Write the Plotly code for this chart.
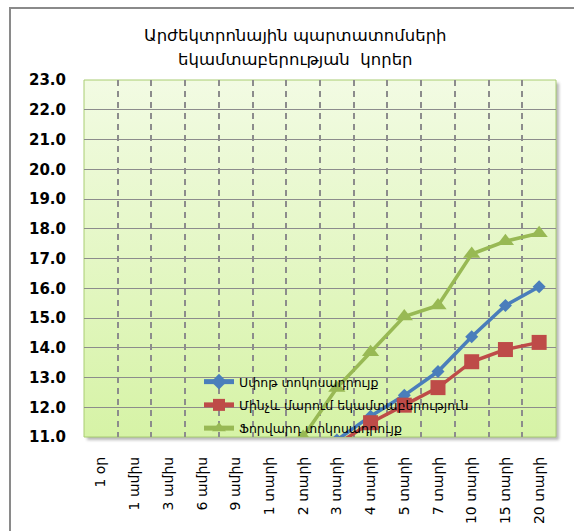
import base64
import plotly.graph_objects as go

# ---- data ----
categories = ["1 օր", "1 ամիս", "3 ամիս", "6 ամիս", "9 ամիս", "1 տարի", "2 տարի",
              "3 տարի", "4 տարի", "5 տարի", "7 տարի", "10 տարի", "15 տարի", "20 տարի"]
spot_rate = [None, None, None, None, None, None, None,
             10.9, 11.7, 12.4, 13.2, 14.37, 15.42, 16.05]
ytm = [None, None, None, None, None, None, None,
       10.75, 11.48, 12.07, 12.66, 13.53, 13.94, 14.18]
forward_rate = [None, None, None, None, None, None, 11.0,
                12.65, 13.85, 15.05, 15.42, 17.15, 17.58, 17.85]
series_names = ["Սփոթ տոկոսադրույք", "Մինչև մարում եկամտաբերություն", "Ֆորվարդ տոկոսադրույք"]
title_lines = ["Արժեկտրոնային պարտատոմսերի", "եկամտաբերության  կորեր"]
y_min, y_max = 11, 23

W, H = 574, 531
ML, MR, MT, MB = 84, 18, 80, 94
PW, PH = W - ML - MR, H - MT - MB


def px_x(px):
    return (px - ML) / PW


def px_y(py):
    return (MT + PH - py) / PH


fig = go.Figure()
styles = [
    ("#4a7ebb", "diamond", 10),
    ("#be4b48", "square", 15),
    ("#98b954", "triangle-up", 15),
]
for name, vals, (col, sym, sz) in zip(series_names, [spot_rate, ytm, forward_rate], styles):
    fig.add_trace(go.Scatter(
        x=categories, y=vals, name=name, mode="lines+markers",
        line=dict(color=col, width=3.5),
        marker=dict(color=col, symbol=sym, size=sz),
        legendgroup=name,
    ))

# background gradient + shadow for plot area
pad = 8
svg = f'''<svg xmlns="http://www.w3.org/2000/svg" width="{PW+pad}" height="{PH+pad}" viewBox="0 0 {PW+pad} {PH+pad}" preserveAspectRatio="none">
<defs>
<linearGradient id="g" x1="0" y1="0" x2="0" y2="1">
<stop offset="0" stop-color="#f2fbe3"/>
<stop offset="1" stop-color="#d6f3a6"/>
</linearGradient>
<filter id="f" x="-5%" y="-5%" width="110%" height="110%"><feGaussianBlur stdDeviation="1.8"/></filter>
</defs>
<rect x="3" y="3" width="{PW}" height="{PH}" fill="#7a7a7a" opacity="0.55" filter="url(#f)"/>
<rect x="0" y="0" width="{PW}" height="{PH}" fill="url(#g)"/>
</svg>'''
src = "data:image/svg+xml;base64," + base64.b64encode(svg.encode()).decode()
fig.add_layout_image(dict(
    source=src, xref="paper", yref="paper", x=0, y=1,
    sizex=(PW + pad) / PW, sizey=(PH + pad) / PH,
    xanchor="left", yanchor="top", sizing="stretch", layer="below",
))

# plot area border
fig.add_shape(type="rect", xref="paper", yref="paper", x0=0, x1=1, y0=0, y1=1,
              line=dict(color="#a9cd72", width=1), layer="below")
# chart frame
fig.add_shape(type="rect", xref="paper", yref="paper",
              x0=px_x(10), x1=px_x(600), y0=px_y(600), y1=px_y(8),
              line=dict(color="#8a8a8a", width=2), layer="below")

# title lines
for line_text, cy in zip(title_lines, [35, 59]):
    fig.add_annotation(text=line_text, xref="paper", yref="paper",
                       x=px_x(295), y=px_y(cy), xanchor="center", yanchor="middle",
                       showarrow=False,
                       font=dict(family="DejaVu Sans", size=16.5, color="black"))

fig.update_layout(
    width=W, height=H, autosize=False,
    margin=dict(l=ML, r=MR, t=MT, b=MB, autoexpand=False),
    paper_bgcolor="white", plot_bgcolor="rgba(0,0,0,0)",
    font=dict(family="DejaVu Sans", color="black"),
    showlegend=True,
    legend=dict(x=px_x(199), y=px_y(367), xanchor="left", yanchor="top",
                bgcolor="rgba(0,0,0,0)", font=dict(size=12.5, family="DejaVu Sans"),
                traceorder="grouped", tracegroupgap=4, itemsizing="constant"),
    xaxis=dict(type="category", categoryorder="array", categoryarray=categories,
               range=[-0.5, len(categories) - 0.5],
               tickangle=-90, tickfont=dict(size=14, family="DejaVu Sans"),
               showgrid=True, gridcolor="#8c8c8c", gridwidth=1.5, griddash="6px,5px",
               tickson="boundaries", ticks="", showline=False, zeroline=False,
               ticklabelstandoff=16),
    yaxis=dict(range=[y_min, y_max], dtick=1, tick0=y_min, tickformat=".1f",
               tickfont=dict(size=15, family="DejaVu Sans", weight="bold"),
               showgrid=True, gridcolor="#8c8c8c", gridwidth=1,
               showline=False, zeroline=False, ticks="", ticklabelstandoff=17),
)

fig.write_html("out.html", config={"displayModeBar": False},
               post_script="document.body.style.margin='0';document.body.style.overflow='hidden';")
